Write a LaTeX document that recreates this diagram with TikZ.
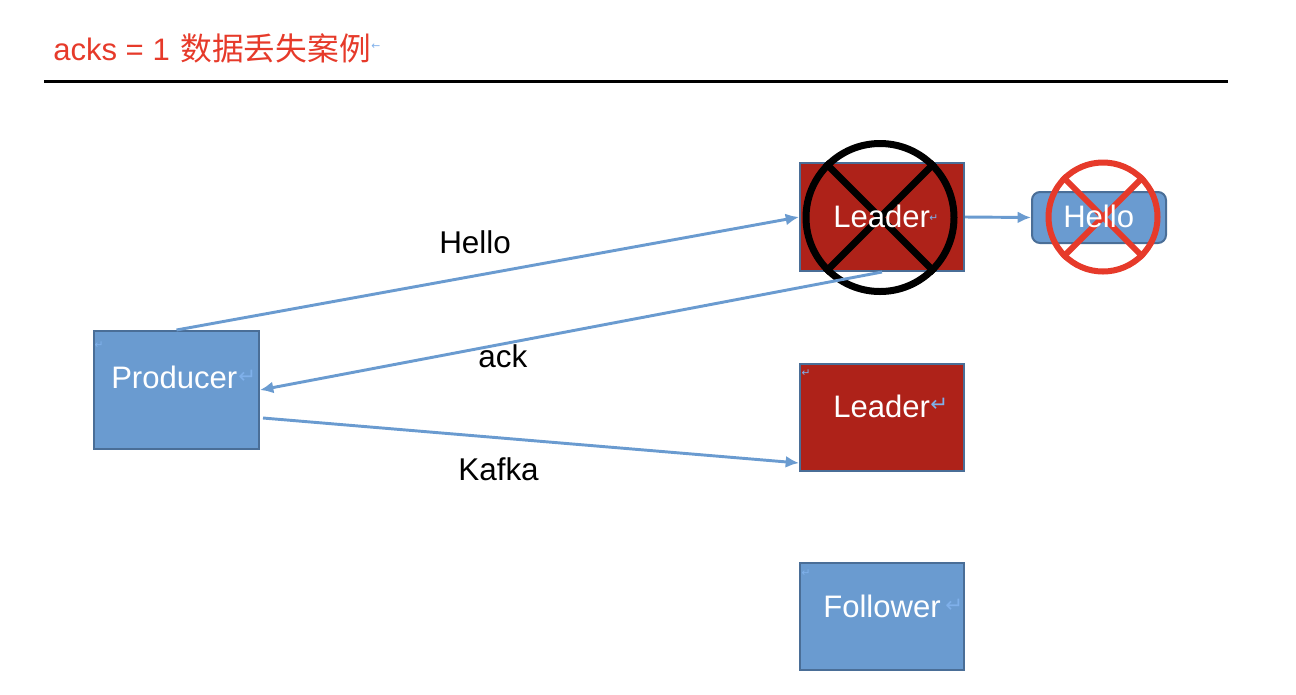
\documentclass[tikz,border=0pt]{standalone}
\usepackage{fontspec}
\setmainfont{Liberation Sans}
\newfontfamily\cjk{Noto Sans CJK SC}
\newfontfamily\symfont{DejaVu Sans}
\usetikzlibrary{arrows.meta,calc}
\definecolor{boxblue}{HTML}{6A9BD0}
\definecolor{boxedge}{HTML}{4A6E97}
\definecolor{leaderred}{HTML}{AE2219}
\definecolor{titlered}{HTML}{E63A2A}
\definecolor{arrowblue}{HTML}{6A9BD0}
\definecolor{markblue}{HTML}{7FB0EA}
\tikzset{
  bluebox/.style={draw=boxedge, fill=boxblue, line width=1.5pt, inner sep=0pt},
  redbox/.style={draw=boxedge, fill=leaderred, line width=1.5pt, inner sep=0pt},
  boxtext/.style={anchor=base west, inner sep=0pt, text=white, font=\fontsize{23.3}{26}\selectfont},
  lbl/.style={anchor=base west, inner sep=0pt, text=black, font=\fontsize{23.6}{26}\selectfont},
  arr/.style={draw=arrowblue, line width=2.2pt, -{Latex[length=10pt,width=9pt]}},
  pmark/.style={inner sep=0pt, text=markblue, font=\symfont\fontsize{16}{18}\selectfont},
  smark/.style={inner sep=0pt, text=markblue, font=\symfont\fontsize{8}{9}\selectfont},
}
\begin{document}
\begin{tikzpicture}[x=0.75pt,y=-0.75pt]
\useasboundingbox (0,0) rectangle (1296,694);
% title
\node[anchor=base west, inner sep=0pt, text=titlered, font=\fontsize{23.3}{26}\selectfont] (title) at (53,60) {acks = 1\hspace{8pt}{\cjk\fontsize{23.8}{26}\selectfont 数据丢失案例}};
\node[smark, anchor=west] (titlemark) at ([yshift=1pt]title.east) {←};
\coordinate (ruleL) at (44,81.5);
\coordinate (ruleR) at (1228,81.5);
\draw[line width=2.25pt] (ruleL) -- (ruleR);

% boxes
\node[bluebox, minimum width=123.75pt, minimum height=88.5pt] (prod) at (176.5,390) {};
\node[redbox, minimum width=123pt, minimum height=81pt] (lead1) at (882,217) {};
\node[redbox, minimum width=123pt, minimum height=80.25pt] (lead2) at (882,417.5) {};
\node[bluebox, minimum width=123pt, minimum height=80.25pt] (foll) at (882,616.5) {};
\node[bluebox, rounded corners=6pt, minimum width=100.5pt, minimum height=38.25pt] (hellobox) at (1099,217.5) {};

% crosses
\node[circle, draw=black, line width=5.25pt, minimum size=111pt, inner sep=0pt] (cross1) at (880,217.5) {};
\draw[line width=5.25pt] (cross1.45) -- (cross1.225);
\draw[line width=5.25pt] (cross1.135) -- (cross1.315);
\node[circle, draw=titlered, line width=4.5pt, minimum size=81.75pt, inner sep=0pt] (cross2) at (1103,217) {};
\draw[titlered, line width=4.5pt] (cross2.45) -- (cross2.225);
\draw[titlered, line width=4.5pt] (cross2.135) -- (cross2.315);

% box texts
\node[boxtext] (prodtxt) at (111,388) {Producer};
\node[pmark, anchor=west] (prodmark) at (238,377) {↵};
\node[smark] (prodmark2) at (99,345) {↵};
\node[boxtext] (lead1txt) at (833,227) {Leader};
\node[smark, anchor=west] (lead1mark) at (929,218) {↵};
\node[boxtext] (lead2txt) at (833,417) {Leader};
\node[pmark, anchor=west] (lead2mark) at (930,405) {↵};
\node[smark] (lead2mark2) at (806,373) {↵};
\node[boxtext] (folltxt) at (823,617) {Follower};
\node[pmark, anchor=west] (follmark) at (945,606) {↵};
\node[smark] (follmark2) at (806,573) {↵};
\node[boxtext] (hellotxt) at (1063,227) {Hello};

% arrows
\draw[arr] (prod.north) -- (lead1.west);
\draw[arr] (lead1.south) -- (prod.east);
\coordinate (kstart) at ([xshift=2.25pt,yshift=-21pt]prod.east);
\coordinate (kend) at ([yshift=6.75pt]lead2.south west);
\draw[arr] (kstart) -- (kend);
\draw[arr] (lead1.east) -- (hellobox.west);

% labels
\node[lbl] (hellolbl) at (439,253) {Hello};
\node[lbl] (acklbl) at (478,367) {ack};
\node[lbl] (kafkalbl) at (458,480) {Kafka};
\end{tikzpicture}
\end{document}
